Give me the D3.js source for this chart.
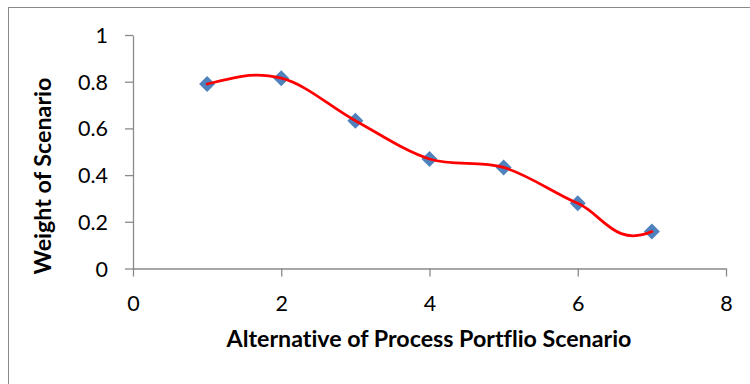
<!DOCTYPE html>
<html>
<head>
<meta charset="utf-8">
<script src="https://cdn.jsdelivr.net/npm/d3@7"></script>
<style>
  html, body { margin: 0; padding: 0; background: #fff; }
  svg { display: block; }
  text { font-family: Lato, "Open Sans", "Liberation Sans", sans-serif; fill: #000;
         font-variant-ligatures: none; font-feature-settings: "liga" 0; }
</style>
</head>
<body>
<svg id="chart" width="750" height="384"></svg>
<script>
// Scenario alternatives and their weights
const alternatives = [1, 2, 3, 4, 5, 6, 7];
const weights = [0.79, 0.815, 0.633, 0.469, 0.433, 0.279, 0.158];

// Axis ticks
const xTicks = [0, 2, 4, 6, 8];
const yTicks = [0, 0.2, 0.4, 0.6, 0.8, 1];

const xTitle = "Alternative of Process Portflio Scenario";
const yTitle = "Weight of Scenario";

const W = 750, H = 384;
const plot = { left: 133, right: 726, top: 35, bottom: 268.5 };
const axisColor = "#8a8a8a";

const svg = d3.select("#chart");

// Outer chart frame
svg.append("rect")
  .attr("x", 8.5).attr("y", 7.5)
  .attr("width", W).attr("height", H)
  .attr("fill", "none").attr("stroke", axisColor).attr("stroke-width", 1);

const x = d3.scaleLinear().domain([0, 8]).range([plot.left, plot.right]);
const y = d3.scaleLinear().domain([0, 1]).range([plot.bottom, plot.top]);

// Y axis
const yAxis = svg.append("g")
  .attr("transform", `translate(${plot.left},0)`)
  .call(d3.axisLeft(y).tickValues(yTicks).tickSize(8).tickSizeOuter(0).tickPadding(17)
    .tickFormat(d => String(+d.toFixed(1))));

// X axis
const xAxis = svg.append("g")
  .attr("transform", `translate(0,${plot.bottom})`)
  .call(d3.axisBottom(x).tickValues(xTicks).tickSize(8).tickSizeOuter(0)
    .tickFormat(d => String(d)));

[yAxis, xAxis].forEach(g => {
  g.select(".domain").attr("stroke", axisColor).attr("stroke-width", 1.3);
  g.selectAll(".tick line").attr("stroke", axisColor).attr("stroke-width", 1.3);
  g.selectAll(".tick text").attr("font-size", 21.5).attr("fill", "#000")
    .style("font-family", "Lato, 'Open Sans', sans-serif");
});
yAxis.selectAll(".tick text").attr("dy", "0.35em");
xAxis.selectAll(".tick text").attr("y", 42).attr("dy", 0);

// Smoothed line: cubic Bezier segments whose control points come from the
// neighbouring points; the end segments mirror the adjacent handle.
function smoothCurve(context) {
  let pts = [];
  return {
    areaStart() {}, areaEnd() {},
    lineStart() { pts = []; },
    point(px, py) { pts.push([+px, +py]); },
    lineEnd() {
      const n = pts.length;
      if (!n) return;
      context.moveTo(pts[0][0], pts[0][1]);
      if (n < 3) { for (let i = 1; i < n; i++) context.lineTo(pts[i][0], pts[i][1]); return; }
      const k = 1 / 6, endScale = 1.5;
      const t = pts.map((p, i) => (i > 0 && i < n - 1)
        ? [k * (pts[i + 1][0] - pts[i - 1][0]), k * (pts[i + 1][1] - pts[i - 1][1])]
        : null);
      t[0] = [endScale * t[1][0], -endScale * t[1][1]];
      t[n - 1] = [endScale * t[n - 2][0], -endScale * t[n - 2][1]];
      for (let i = 0; i < n - 1; i++) {
        const a = pts[i], b = pts[i + 1];
        context.bezierCurveTo(a[0] + t[i][0], a[1] + t[i][1],
                              b[0] - t[i + 1][0], b[1] - t[i + 1][1],
                              b[0], b[1]);
      }
    }
  };
}

const data = alternatives.map((a, i) => ({ x: a, y: weights[i] }));

// Diamond markers
svg.append("g").selectAll("path")
  .data(data).join("path")
  .attr("d", d3.symbol().type(d3.symbolSquare).size(128))
  .attr("transform", d => `translate(${x(d.x)},${y(d.y)}) rotate(45)`)
  .attr("fill", "#4F81BD");

// Smoothed trend line on top of the markers
svg.append("path")
  .datum(data)
  .attr("fill", "none")
  .attr("stroke", "#FF0000")
  .attr("stroke-width", 2.75)
  .attr("stroke-linecap", "round")
  .attr("d", d3.line().x(d => x(d.x)).y(d => y(d.y)).curve(smoothCurve));

// Axis titles, sized to their intended span
function fitText(sel, width, base) {
  sel.attr("font-size", base);
  const w = sel.node().getComputedTextLength();
  sel.attr("font-size", base * width / w);
}

const xt = svg.append("text")
  .attr("x", 429).attr("y", 347)
  .attr("text-anchor", "middle").attr("font-weight", "bold")
  .text(xTitle);
fitText(xt, 405, 20);

const yt = svg.append("text")
  .attr("transform", "translate(51,176) rotate(-90)")
  .attr("text-anchor", "middle").attr("font-weight", "bold")
  .text(yTitle);
fitText(yt, 197, 20);
</script>
</body>
</html>
